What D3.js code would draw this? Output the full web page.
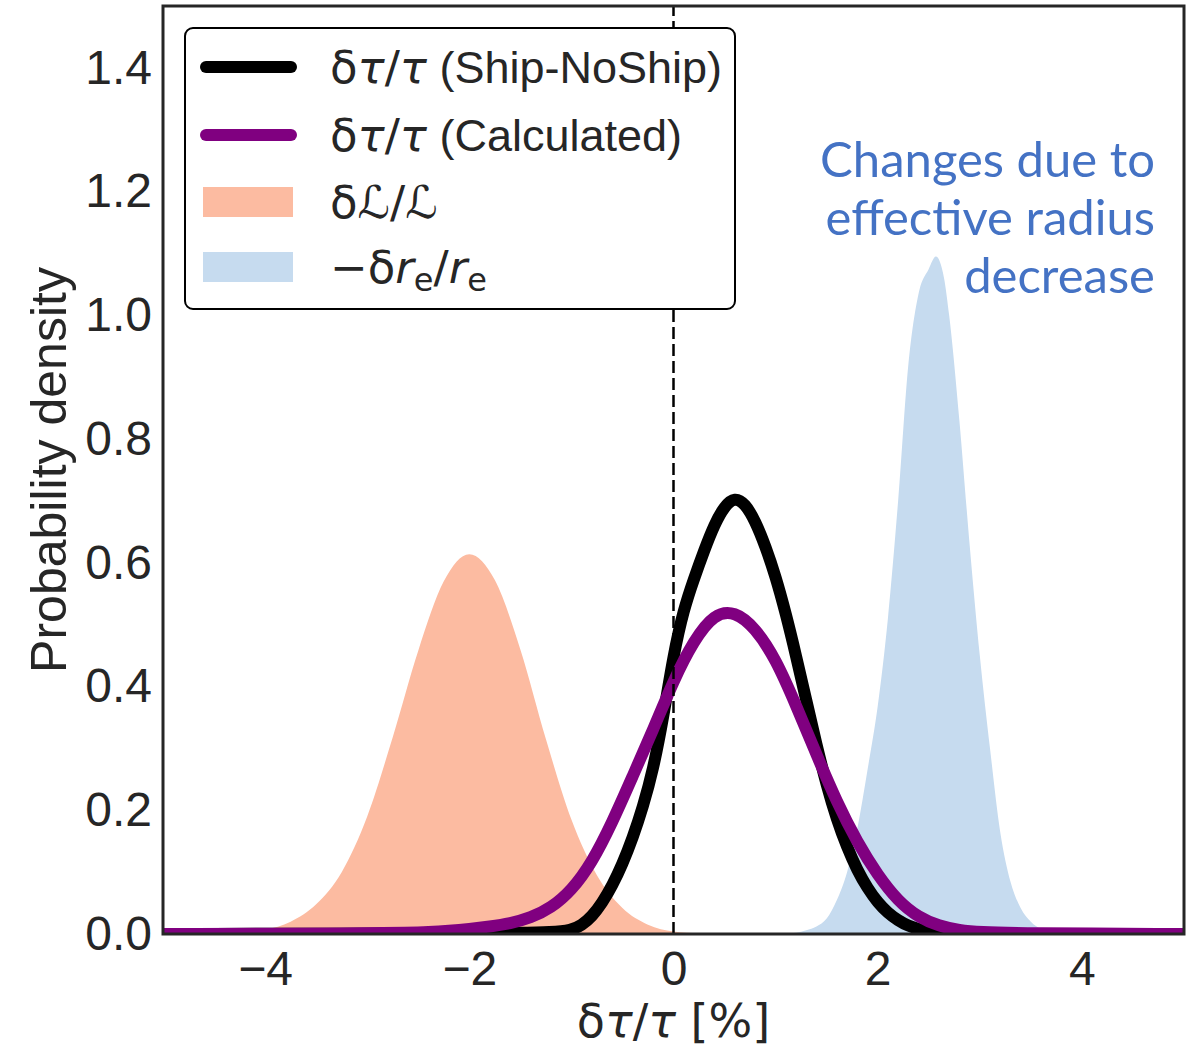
<!DOCTYPE html>
<html>
<head>
<meta charset="utf-8">
<script src="https://cdn.jsdelivr.net/npm/d3@7"></script>
<style>
  body { margin: 0; background: #fff; }
  text { font-family: "Liberation Sans", Arial, sans-serif; }
  .math { font-family: "DejaVu Sans", sans-serif; }
</style>
</head>
<body>
<svg id="chart" width="1201" height="1051"></svg>
<script>
"use strict";

// ticks
const xTicks = [-4, -2, 0, 2, 4];
const yTicks = [0, 0.2, 0.4, 0.6, 0.8, 1.0, 1.2, 1.4];

// dL/L (filled, orange)
const lumX = [-5, -4.5, -4.25, -4.0, -3.75, -3.5, -3.25, -3.0, -2.75, -2.5, -2.25, -2.0, -1.75, -1.5, -1.25, -1.0, -0.75, -0.5, -0.25, 0, 0.25, 0.5, 5];
const lumY = [0, 0.0005, 0.002, 0.007, 0.02, 0.048, 0.1, 0.19, 0.318, 0.458, 0.57, 0.614, 0.572, 0.46, 0.315, 0.185, 0.095, 0.042, 0.015, 0.004, 0.001, 0, 0];

// -dre/re (filled, blue)
const reX = [-5, 1.0, 1.2, 1.3, 1.4, 1.5, 1.6, 1.7, 1.8, 1.9, 2.0, 2.1, 2.2, 2.3, 2.4, 2.5, 2.57, 2.65, 2.7, 2.8, 2.9, 3.0, 3.1, 3.2, 3.3, 3.4, 3.5, 3.6, 3.7, 3.8, 4.0, 5];
const reY = [0, 0, 0.002, 0.006, 0.012, 0.025, 0.055, 0.10, 0.17, 0.265, 0.368, 0.51, 0.70, 0.92, 1.035, 1.075, 1.095, 1.06, 1.0, 0.83, 0.63, 0.45, 0.30, 0.165, 0.085, 0.042, 0.02, 0.008, 0.003, 0.001, 0, 0];

// dtau/tau Ship-NoShip (black line)
const shipX = [-5, -2, -1.5, -1.2, -1.0, -0.9, -0.8, -0.7, -0.6, -0.5, -0.4, -0.3, -0.2, -0.1, 0, 0.1, 0.2, 0.3, 0.4, 0.5, 0.6, 0.7, 0.8, 0.9, 1.0, 1.1, 1.2, 1.3, 1.4, 1.5, 1.6, 1.7, 1.8, 1.9, 2.0, 2.1, 2.2, 2.3, 2.4, 2.5, 2.7, 3.0, 5];
const shipY = [0, 0.001, 0.002, 0.003, 0.006, 0.014, 0.028, 0.05, 0.078, 0.113, 0.155, 0.205, 0.265, 0.35, 0.452, 0.525, 0.574, 0.62, 0.662, 0.692, 0.706, 0.696, 0.668, 0.627, 0.578, 0.518, 0.45, 0.378, 0.306, 0.24, 0.185, 0.14, 0.103, 0.074, 0.051, 0.034, 0.022, 0.013, 0.008, 0.004, 0.001, 0, 0];

// dtau/tau Calculated (purple line)
const calcX = [-5, -3, -2.6, -2.4, -2.2, -2.0, -1.8, -1.6, -1.4, -1.2, -1.0, -0.8, -0.6, -0.4, -0.2, 0, 0.2, 0.4, 0.6, 0.8, 1.0, 1.2, 1.4, 1.6, 1.8, 2.0, 2.2, 2.4, 2.6, 2.8, 3.0, 3.4, 5];
const calcY = [0, 0.001, 0.002, 0.003, 0.005, 0.008, 0.012, 0.017, 0.026, 0.042, 0.07, 0.115, 0.18, 0.255, 0.33, 0.41, 0.475, 0.518, 0.522, 0.495, 0.445, 0.37, 0.29, 0.213, 0.148, 0.095, 0.053, 0.027, 0.013, 0.006, 0.003, 0.001, 0];

const annotationLines = ["Changes due to", "effective radius", "decrease"];

const size = {left: 163, top: 6, right: 1184, bottom: 934};
const ink = "#262626";

const svg = d3.select("#chart");

const x = d3.scaleLinear().domain([-5, 5]).range([size.left, size.right]);
const y = d3.scaleLinear().domain([0, 1.5]).range([size.bottom, size.top]);

const zip = (xs, ys) => xs.map((v, i) => [v, ys[i]]);

svg.append("defs").append("clipPath")
    .attr("id", "plot-clip")
    .append("rect")
    .attr("x", size.left)
    .attr("y", size.top)
    .attr("width", size.right - size.left)
    .attr("height", size.bottom - size.top);

const plot = svg.append("g").attr("clip-path", "url(#plot-clip)");

const area = d3.area()
    .x(d => x(d[0]))
    .y0(y(0))
    .y1(d => y(d[1]))
    .curve(d3.curveMonotoneX);

const line = d3.line()
    .x(d => x(d[0]))
    .y(d => y(d[1]))
    .curve(d3.curveBasis);

plot.append("path")
    .datum(zip(lumX, lumY))
    .attr("fill", "#fcbba1")
    .attr("d", area);

plot.append("path")
    .datum(zip(reX, reY))
    .attr("fill", "#c6dbef")
    .attr("d", area);

plot.append("path")
    .datum(zip(shipX, shipY))
    .attr("fill", "none")
    .attr("stroke", "#000")
    .attr("stroke-width", 12)
    .attr("stroke-linejoin", "round")
    .attr("d", line);

plot.append("path")
    .datum(zip(calcX, calcY))
    .attr("fill", "none")
    .attr("stroke", "#800080")
    .attr("stroke-width", 12)
    .attr("stroke-linejoin", "round")
    .attr("d", line);

plot.append("line")
    .attr("x1", x(0)).attr("x2", x(0))
    .attr("y1", y(0)).attr("y2", y(1.5))
    .attr("stroke", "#000")
    .attr("stroke-width", 2.5)
    .attr("stroke-dasharray", "12,5");

// axes (no tick marks, seaborn white style)
const xAxis = svg.append("g")
    .attr("transform", "translate(0," + size.bottom + ")")
    .call(d3.axisBottom(x).tickValues(xTicks).tickSize(0).tickPadding(17).tickFormat(d3.format("d")));
const yAxis = svg.append("g")
    .attr("transform", "translate(" + size.left + ",0)")
    .call(d3.axisLeft(y).tickValues(yTicks).tickSize(0).tickPadding(11).tickFormat(d3.format(".1f")));

[xAxis, yAxis].forEach(a => {
    a.select(".domain").remove();
    a.selectAll("text")
        .style("font-family", "'Liberation Sans', Arial, sans-serif")
        .style("font-size", "48px")
        .attr("fill", ink);
});

// frame
svg.append("rect")
    .attr("x", size.left)
    .attr("y", size.top)
    .attr("width", size.right - size.left)
    .attr("height", size.bottom - size.top)
    .attr("fill", "none")
    .attr("stroke", ink)
    .attr("stroke-width", 3);

// math label helper: delta tau / tau
const addDtau = (sel) => {
    sel.append("tspan").attr("class", "math").text("δ");
    sel.append("tspan").attr("class", "math").style("font-style", "italic").text("τ");
    sel.append("tspan").attr("class", "math").text("/");
    sel.append("tspan").attr("class", "math").style("font-style", "italic").text("τ");
};

// axis labels
const xLabel = svg.append("text")
    .attr("x", x(0))
    .attr("y", 1037)
    .attr("text-anchor", "middle")
    .attr("fill", ink)
    .style("font-size", "46px");
addDtau(xLabel);
xLabel.append("tspan").attr("class", "math").text(" [%]");

svg.append("text")
    .attr("transform", "translate(66," + ((size.top + size.bottom) / 2) + ") rotate(-90)")
    .attr("text-anchor", "middle")
    .attr("fill", ink)
    .style("font-size", "50px")
    .text("Probability density");

// annotation
svg.append("g")
    .selectAll("text")
    .data(annotationLines)
    .enter()
    .append("text")
    .attr("x", 1155)
    .attr("y", (d, i) => 177 + i * 58)
    .attr("text-anchor", "end")
    .attr("fill", "#4472c4")
    .style("font-family", "Lato, 'Open Sans', sans-serif")
    .style("font-size", "49px")
    .text(d => d);

// legend
const legend = svg.append("g").attr("transform", "translate(185,28)");

legend.append("rect")
    .attr("width", 550)
    .attr("height", 281)
    .attr("rx", 8)
    .attr("fill", "#fff")
    .attr("stroke", "#000")
    .attr("stroke-width", 2);

const rows = [
    {kind: "line", color: "#000", cy: 39},
    {kind: "line", color: "#800080", cy: 107},
    {kind: "patch", color: "#fcbba1", cy: 174},
    {kind: "patch", color: "#c6dbef", cy: 239}
];

rows.forEach(r => {
    if (r.kind === "line") {
        legend.append("line")
            .attr("x1", 21).attr("x2", 106)
            .attr("y1", r.cy).attr("y2", r.cy)
            .attr("stroke", r.color)
            .attr("stroke-width", 12)
            .attr("stroke-linecap", "round");
    } else {
        legend.append("rect")
            .attr("x", 18).attr("y", r.cy - 15)
            .attr("width", 90).attr("height", 30)
            .attr("fill", r.color);
    }
});

const legendText = (cy) => legend.append("text")
    .attr("x", 145)
    .attr("y", cy + 16)
    .attr("fill", ink)
    .style("font-size", "45px");

let t = legendText(rows[0].cy);
addDtau(t);
t.append("tspan").text(" (Ship-NoShip)");

t = legendText(rows[1].cy);
addDtau(t);
t.append("tspan").text(" (Calculated)");

t = legendText(rows[2].cy);
t.append("tspan").attr("class", "math").text("δ");
t.append("tspan").attr("class", "math").style("font-style", "italic").text("ℒ");
t.append("tspan").attr("class", "math").text("/");
t.append("tspan").attr("class", "math").style("font-style", "italic").text("ℒ");

t = legendText(rows[3].cy);
t.append("tspan").attr("class", "math").text("−δ");
t.append("tspan").attr("class", "math").style("font-style", "italic").text("r");
t.append("tspan").attr("class", "math").attr("dy", 8).style("font-size", "32px").text("e");
t.append("tspan").attr("class", "math").attr("dy", -8).text("/");
t.append("tspan").attr("class", "math").style("font-style", "italic").text("r");
t.append("tspan").attr("class", "math").attr("dy", 8).style("font-size", "32px").text("e");
</script>
</body>
</html>
